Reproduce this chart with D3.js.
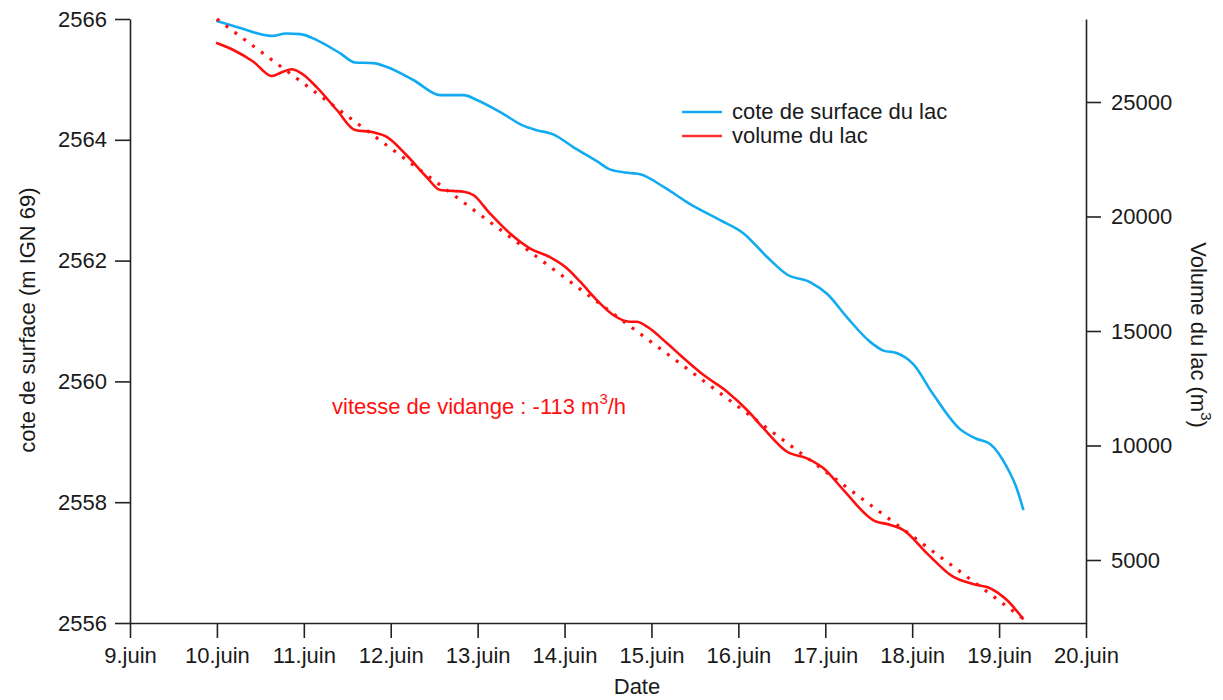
<!DOCTYPE html>
<html><head><meta charset="utf-8">
<script src="https://cdn.jsdelivr.net/npm/d3@7"></script>
<style>
body{margin:0;background:#fff;}
text{font-family:"Liberation Sans",Arial,sans-serif;}
</style></head>
<body><svg id="c" width="1223" height="700"></svg>
<script>
// ---- data ----
const dayTicks = [9,10,11,12,13,14,15,16,17,18,19,20];
const dayTickLabels = ["9.juin","10.juin","11.juin","12.juin","13.juin","14.juin","15.juin","16.juin","17.juin","18.juin","19.juin","20.juin"];
const coteTicks = [2556,2558,2560,2562,2564,2566];
const volTicks = [5000,10000,15000,20000,25000];

const coteDays = [9.99,10.27,10.63,10.80,10.96,11.15,11.42,11.59,11.80,11.95,12.26,12.57,12.84,12.99,13.26,13.53,13.68,13.87,14.10,14.41,14.52,14.75,14.87,15.14,15.44,15.79,16.06,16.33,16.56,16.83,17.02,17.25,17.52,17.67,17.82,18.01,18.24,18.55,18.74,18.90,19.09,19.20,19.28];
const coteValues = [2565.97,2565.85,2565.72,2565.76,2565.75,2565.65,2565.43,2565.28,2565.27,2565.21,2564.99,2564.74,2564.74,2564.66,2564.46,2564.23,2564.16,2564.09,2563.88,2563.61,2563.51,2563.45,2563.43,2563.22,2562.94,2562.67,2562.45,2562.06,2561.77,2561.64,2561.45,2561.06,2560.65,2560.51,2560.47,2560.29,2559.79,2559.21,2559.05,2558.96,2558.58,2558.24,2557.87];

const volDays = [9.99,10.19,10.42,10.63,10.76,10.86,10.96,11.15,11.38,11.59,11.80,11.95,12.18,12.41,12.57,12.84,12.95,13.14,13.37,13.60,13.83,14.01,14.18,14.37,14.56,14.75,14.83,14.95,15.18,15.33,15.60,15.87,16.10,16.29,16.56,16.79,16.98,17.21,17.55,17.75,17.90,18.17,18.47,18.70,18.90,19.09,19.28];
const volValues = [27589,27270,26759,26135,26323,26427,26279,25641,24650,23777,23676,23484,22685,21737,21156,21082,20938,20139,19265,18610,18231,17794,17152,16353,15698,15405,15405,15187,14462,13951,13077,12348,11549,10750,9728,9440,9003,8055,6745,6527,6309,5291,4269,3950,3763,3252,2409];

const fitDays = [10.0, 19.3];
const fitValues = [28624, 2379];

// ---- layout ----
const FS = 22;
const svg = d3.select("#c");
const x = d3.scaleLinear().domain([9,20]).range([130,1086]);
const yL = d3.scaleLinear().domain([2556,2566]).range([623,19]);
const yR = d3.scaleLinear().domain([2249,28624]).range([623,19]);

const axisColor = "#222";
function styleAxis(g){
  g.selectAll("path,line").attr("stroke",axisColor).attr("stroke-width",1.6);
  g.selectAll("text").attr("font-size",FS).attr("fill","#1a1a1a").attr("font-family","'Liberation Sans',Arial,sans-serif");
}

const gx = svg.append("g").attr("transform","translate(0,623)")
  .call(d3.axisBottom(x).tickValues(dayTicks).tickFormat((d,i)=>dayTickLabels[i]).tickSize(15).tickSizeOuter(0).tickPadding(9));
styleAxis(gx);

const gl = svg.append("g").attr("transform","translate(130,0)")
  .call(d3.axisLeft(yL).tickValues(coteTicks).tickFormat(d3.format("d")).tickSize(15).tickSizeOuter(0).tickPadding(8));
styleAxis(gl);

const gr = svg.append("g").attr("transform","translate(1086,0)")
  .call(d3.axisRight(yR).tickValues(volTicks).tickFormat(d3.format("d")).tickSize(15).tickSizeOuter(0).tickPadding(10));
styleAxis(gr);

// lines
const coteData = coteDays.map((d,i)=>[d,coteValues[i]]);
const volData = volDays.map((d,i)=>[d,volValues[i]]);
const fitData = fitDays.map((d,i)=>[d,fitValues[i]]);

svg.append("path").datum(coteData)
  .attr("d", d3.line().x(d=>x(d[0])).y(d=>yL(d[1])).curve(d3.curveMonotoneX))
  .attr("fill","none").attr("stroke","#12aaf0").attr("stroke-width",2.6);

svg.append("path").datum(fitData)
  .attr("d", d3.line().x(d=>x(d[0])).y(d=>yR(d[1])))
  .attr("fill","none").attr("stroke","#ff1010").attr("stroke-width",3.2).attr("stroke-dasharray","3 8");

svg.append("path").datum(volData)
  .attr("d", d3.line().x(d=>x(d[0])).y(d=>yR(d[1])).curve(d3.curveMonotoneX))
  .attr("fill","none").attr("stroke","#ff1010").attr("stroke-width",2.6);

// axis titles
svg.append("text").attr("transform","translate(35,320) rotate(-90)")
  .attr("text-anchor","middle").attr("font-size",FS).attr("fill","#1a1a1a")
  .text("cote de surface (m IGN 69)");

const rt = svg.append("text").attr("transform","translate(1191,335) rotate(90)")
  .attr("text-anchor","middle").attr("font-size",FS).attr("fill","#1a1a1a");
rt.append("tspan").text("Volume du lac (m");
rt.append("tspan").attr("font-size",15).attr("dy",-10).text("3");
rt.append("tspan").attr("dy",10).text(")");

svg.append("text").attr("x",637).attr("y",694).attr("text-anchor","middle")
  .attr("font-size",FS).attr("fill","#1a1a1a").text("Date");

// legend
const legend = [{label:"cote de surface du lac",color:"#12aaf0",y:112},{label:"volume du lac",color:"#ff3030",y:136}];
legend.forEach(l=>{
  svg.append("line").attr("x1",682).attr("x2",722).attr("y1",l.y).attr("y2",l.y)
    .attr("stroke",l.color).attr("stroke-width",2.4);
  svg.append("text").attr("x",732).attr("y",l.y+7).attr("font-size",FS).attr("fill","#1a1a1a").text(l.label);
});

// annotation
const an = svg.append("text").attr("x",332).attr("y",414).attr("font-size",FS).attr("fill","#ff1010");
an.append("tspan").text("vitesse de vidange : -113 m");
an.append("tspan").attr("font-size",15).attr("dy",-10).text("3");
an.append("tspan").attr("dy",10).text("/h");
</script></body></html>
